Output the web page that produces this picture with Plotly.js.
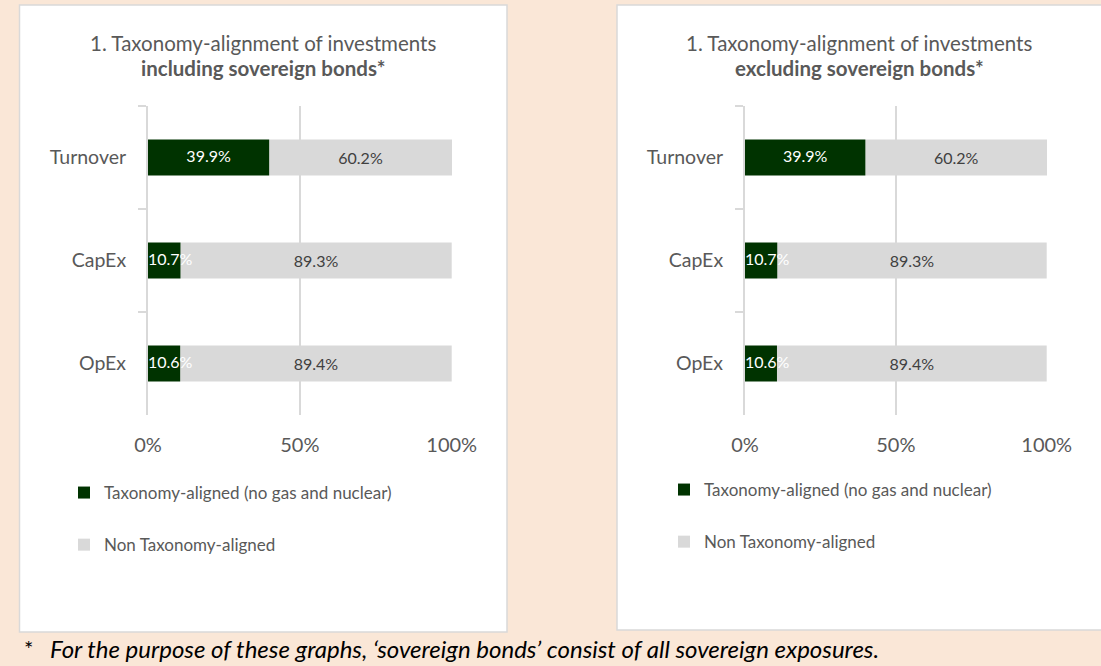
<!DOCTYPE html>
<html>
<head>
<meta charset="utf-8">
<script src="https://cdn.plot.ly/plotly-3.0.1.min.js"></script>
<style>html,body{margin:0;padding:0;}#chart{width:1101px;height:666px;}</style>
</head>
<body>
<div id="chart"></div>
<script>
const categories = ['Turnover', 'CapEx', 'OpEx'];
const alignedIncl = [39.9, 10.7, 10.6];
const nonAlignedIncl = [60.2, 89.3, 89.4];
const alignedExcl = [39.9, 10.7, 10.6];
const nonAlignedExcl = [60.2, 89.3, 89.4];
const seriesNames = ['Taxonomy-aligned (no gas and nuclear)', 'Non Taxonomy-aligned'];
const xTickVals = [0, 50, 100];
const xTickText = ['0%', '50%', '100%'];
const titleLine1 = '1. Taxonomy-alignment of investments';
const titleIncl = 'including sovereign bonds*';
const titleExcl = 'excluding sovereign bonds*';
const footnote = 'For the purpose of these graphs, \u2018sovereign bonds\u2019 consist of all sovereign exposures.';

const W = 1101, H = 666;
const FONT = 'Lato, "Open Sans", sans-serif';
const DARK = '#003300';
const GREY = '#D9D9D9';
const TXT = '#595959';
const FIT = 15; // a label fits inside a bar of at least this share
const fmt = v => v.toFixed(1) + '%';
const px = v => v / W;
const py = v => 1 - v / H;

function group(aligned, non, xa, ya, leg) {
  return [
    {
      type: 'bar', orientation: 'h', y: categories, x: non, base: aligned,
      name: seriesNames[1], marker: {color: GREY}, xaxis: xa, yaxis: ya,
      text: non.map(fmt), textposition: 'inside', insidetextanchor: 'middle', textangle: 0,
      textfont: {family: FONT, size: 16, color: '#404040'}, constraintext: 'none',
      cliponaxis: false, legend: leg, legendgroup: leg + 'b', legendrank: 2, hoverinfo: 'skip'
    },
    {
      type: 'bar', orientation: 'h', y: categories, x: aligned,
      name: seriesNames[0], marker: {color: DARK}, xaxis: xa, yaxis: ya,
      cliponaxis: false, legend: leg, legendgroup: leg + 'a', legendrank: 1, hoverinfo: 'skip'
    },
    {
      type: 'scatter', mode: 'text', y: categories, xaxis: xa, yaxis: ya,
      x: aligned.map(v => v >= FIT ? v / 2 : 0),
      text: aligned.map(fmt),
      textposition: aligned.map(v => v >= FIT ? 'middle center' : 'middle right'),
      textfont: {family: FONT, size: 16, color: '#FFFFFF'},
      cliponaxis: false, showlegend: false, hoverinfo: 'skip'
    }
  ];
}

const data = [].concat(
  group(alignedIncl, nonAlignedIncl, 'x', 'y', 'legend'),
  group(alignedExcl, nonAlignedExcl, 'x2', 'y2', 'legend2')
);

const yDom = [py(415), py(106)];
function xax(dom, anchor) {
  return {
    domain: dom, anchor: anchor, range: [0, 100.1], tickmode: 'array',
    tickvals: xTickVals, ticktext: xTickText,
    showgrid: true, gridcolor: GREY, gridwidth: 2, zeroline: false, showline: false,
    ticks: '', tickfont: {family: FONT, size: 20, color: TXT}, fixedrange: true,
    ticklabelstandoff: 16
  };
}
function yax(anchor) {
  return {
    domain: yDom, anchor: anchor, type: 'category', autorange: 'reversed',
    showline: true, linecolor: GREY, linewidth: 2, ticks: 'outside', tickson: 'boundaries',
    ticklen: 8, tickcolor: GREY, tickwidth: 2, showgrid: false, zeroline: false,
    tickfont: {family: FONT, size: 19.5, color: TXT}, fixedrange: true,
    ticklabelstandoff: 16
  };
}
function leg(xp, yp) {
  return {
    x: px(xp), y: py(yp), xanchor: 'left', yanchor: 'top', orientation: 'v',
    traceorder: 'grouped', tracegroupgap: 27, bgcolor: 'rgba(0,0,0,0)',
    font: {family: FONT, size: 17, color: TXT}, itemwidth: 30, itemclick: false
  };
}

function ann(text, x, y, size, color, anchor) {
  return {text: text, x: px(x), y: py(y), xref: 'paper', yref: 'paper', showarrow: false,
          font: {family: FONT, size: size, color: color}, xanchor: anchor, yanchor: 'middle'};
}

const annotations = [
  ann(titleLine1, 263, 43, 20.5, TXT, 'center'),
  ann('<b>' + titleIncl + '</b>', 263, 68, 20.5, TXT, 'center'),
  ann(titleLine1, 859, 43, 20.5, TXT, 'center'),
  ann('<b>' + titleExcl + '</b>', 859, 68, 20.5, TXT, 'center'),
  ann('*', 22, 648, 22, '#000000', 'left'),
  ann('<i>' + footnote + '</i>', 48, 648, 24, '#000000', 'left')
];

const shapes = [
  {type: 'rect', xref: 'paper', yref: 'paper', x0: px(19.5), x1: px(507), y0: py(632), y1: py(5),
   fillcolor: '#FFFFFF', line: {color: '#D9D9D9', width: 1.5}, layer: 'below'},
  {type: 'rect', xref: 'paper', yref: 'paper', x0: px(617), x1: px(1110), y0: py(630), y1: py(5),
   fillcolor: '#FFFFFF', line: {color: '#D9D9D9', width: 1.5}, layer: 'below'}
];

const layout = {
  width: W, height: H,
  margin: {l: 0, r: 0, t: 0, b: 0},
  paper_bgcolor: '#FAE7D7', plot_bgcolor: 'rgba(0,0,0,0)',
  barmode: 'overlay', bargap: 0.65,
  showlegend: true,
  xaxis: xax([px(148), px(452)], 'y'),
  yaxis: yax('x'),
  xaxis2: xax([px(745), px(1047)], 'y2'),
  yaxis2: yax('x2'),
  legend: leg(64, 475),
  legend2: leg(664, 472),
  annotations: annotations,
  shapes: shapes,
  font: {family: FONT, color: TXT}
};

Plotly.newPlot('chart', data, layout, {displayModeBar: false, staticPlot: true});
</script>
</body>
</html>
